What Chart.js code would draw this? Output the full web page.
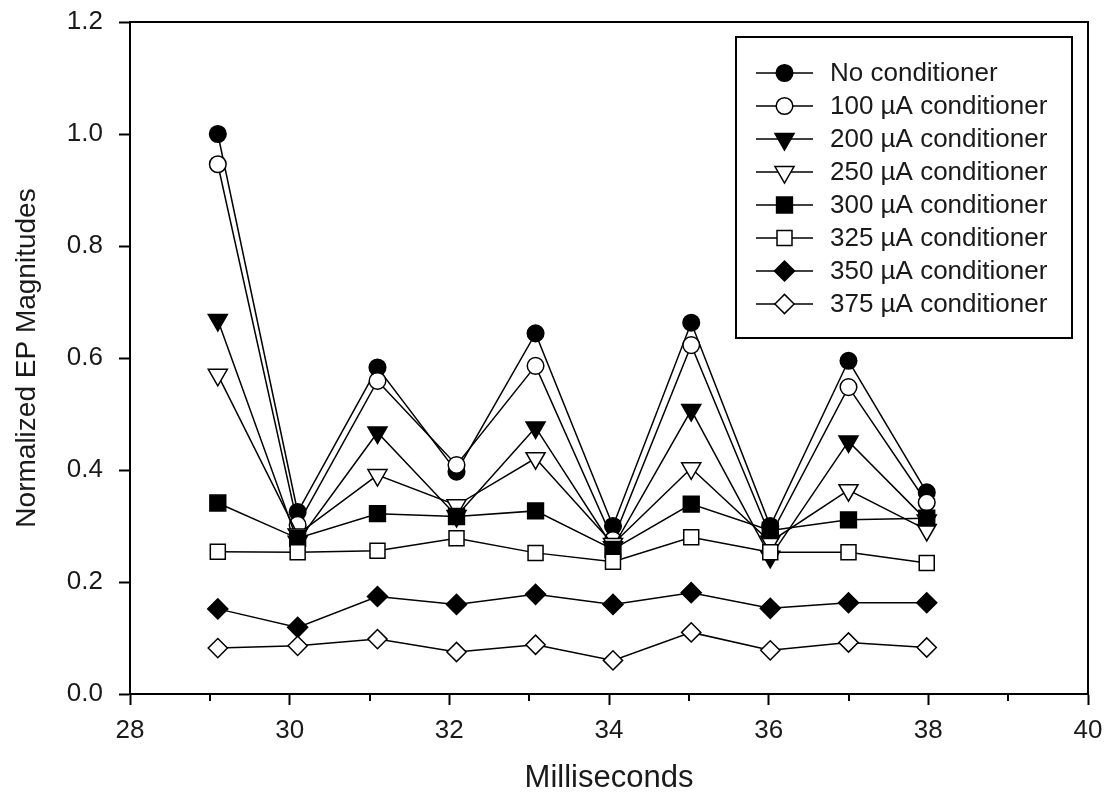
<!DOCTYPE html>
<html>
<head>
<meta charset="utf-8">
<script src="https://cdn.jsdelivr.net/npm/chart.js@4.4.0/dist/chart.umd.min.js"></script>
<style>
html,body{margin:0;padding:0;background:#fff;}
#wrap{width:1106px;height:803px;position:relative;}
</style>
</head>
<body>
<div id="wrap"><canvas id="c" width="1106" height="803"></canvas></div>
<script>
// ---- data ----
const times = [29.1, 30.1, 31.1, 32.09, 33.08, 34.05, 35.03, 36.02, 37.0, 37.98];
const seriesNames = ['No conditioner', '100 µA conditioner', '200 µA conditioner', '250 µA conditioner',
                     '300 µA conditioner', '325 µA conditioner', '350 µA conditioner', '375 µA conditioner'];
const noConditioner = [1.00, 0.325, 0.583, 0.397, 0.644, 0.300, 0.663, 0.300, 0.595, 0.360];
const uA100 = [0.946, 0.302, 0.559, 0.409, 0.586, 0.275, 0.623, 0.282, 0.548, 0.342];
const uA200 = [0.668, 0.272, 0.467, 0.318, 0.476, 0.262, 0.507, 0.245, 0.451, 0.310];
const uA250 = [0.570, 0.285, 0.391, 0.337, 0.421, 0.268, 0.403, 0.272, 0.364, 0.293];
const uA300 = [0.341, 0.278, 0.322, 0.317, 0.327, 0.258, 0.339, 0.292, 0.311, 0.314];
const uA325 = [0.254, 0.253, 0.256, 0.278, 0.252, 0.236, 0.280, 0.253, 0.253, 0.234];
const uA350 = [0.152, 0.119, 0.174, 0.160, 0.178, 0.160, 0.181, 0.153, 0.163, 0.163];
const uA375 = [0.082, 0.086, 0.098, 0.075, 0.088, 0.060, 0.110, 0.078, 0.092, 0.083];
const seriesValues = [noConditioner, uA100, uA200, uA250, uA300, uA325, uA350, uA375];
const xMin = 28, xMax = 40, xMajorStep = 2, xMinorStep = 1;
const yMin = 0, yMax = 1.2, yStep = 0.2;

// ---- styles ----
const markerStyles = [
  {pointStyle: 'circle',   fill: '#000', radius: 8.3, rotation: 0},
  {pointStyle: 'circle',   fill: '#fff', radius: 8.3, rotation: 0},
  {pointStyle: 'triangle', fill: '#000', radius: 11,  rotation: 180},
  {pointStyle: 'triangle', fill: '#fff', radius: 11,  rotation: 180},
  {pointStyle: 'rect',     fill: '#000', radius: 11.2, rotation: 0},
  {pointStyle: 'rect',     fill: '#fff', radius: 10.6, rotation: 0},
  {pointStyle: 'rectRot',  fill: '#000', radius: 10,  rotation: 0},
  {pointStyle: 'rectRot',  fill: '#fff', radius: 9.6, rotation: 0}
];
const FONT = '"Liberation Sans", Arial, sans-serif';
const TEXT = '#1a1a1a';

const datasets = seriesValues.map((vals, i) => ({
  label: seriesNames[i],
  data: vals.map((v, j) => ({x: times[j], y: v})),
  showLine: true,
  borderColor: '#000',
  borderWidth: 1.5,
  pointStyle: markerStyles[i].pointStyle,
  pointRadius: markerStyles[i].radius,
  pointHoverRadius: markerStyles[i].radius,
  pointRotation: markerStyles[i].rotation,
  pointBackgroundColor: markerStyles[i].fill,
  pointBorderColor: '#000',
  pointBorderWidth: 1.5,
  order: seriesValues.length - 1 - i
}));

function drawMarker(ctx, st, x, y) {
  const opts = {pointStyle: st.pointStyle, radius: st.radius, rotation: st.rotation, borderWidth: 1.5};
  ctx.save();
  ctx.fillStyle = st.fill;
  ctx.strokeStyle = '#000';
  ctx.lineWidth = 1.5;
  if (Chart.helpers && Chart.helpers.drawPoint) {
    Chart.helpers.drawPoint(ctx, opts, x, y);
  } else {
    ctx.beginPath(); ctx.arc(x, y, st.radius, 0, Math.PI * 2); ctx.fill(); ctx.stroke();
  }
  ctx.restore();
}

const framePlugin = {
  id: 'frameAndLegend',
  afterDraw(chart) {
    const ctx = chart.ctx;
    const a = chart.chartArea;
    const xs = chart.scales.x;
    ctx.save();
    // frame
    ctx.strokeStyle = '#000';
    ctx.lineWidth = 2;
    ctx.strokeRect(a.left, a.top, a.right - a.left, a.bottom - a.top);
    // minor x ticks
    for (let v = xMin + xMinorStep; v < xMax; v += 2 * xMinorStep) {
      const px = Math.round(xs.getPixelForValue(v));
      ctx.beginPath();
      ctx.moveTo(px, a.bottom);
      ctx.lineTo(px, a.bottom + 7);
      ctx.stroke();
    }
    // legend
    const lg = {left: 736, top: 37, right: 1072, bottom: 338, row0: 73, gap: 33, l0: 756, l1: 813, tx: 830};
    ctx.fillStyle = '#fff';
    ctx.fillRect(lg.left, lg.top, lg.right - lg.left, lg.bottom - lg.top);
    ctx.strokeStyle = '#000';
    ctx.lineWidth = 2;
    ctx.strokeRect(lg.left, lg.top, lg.right - lg.left, lg.bottom - lg.top);
    ctx.font = '26px ' + FONT;
    ctx.textBaseline = 'middle';
    ctx.textAlign = 'left';
    chart.data.datasets.forEach((ds, i) => {
      const y = lg.row0 + i * lg.gap;
      ctx.strokeStyle = '#000';
      ctx.lineWidth = 1.5;
      ctx.beginPath();
      ctx.moveTo(lg.l0, y);
      ctx.lineTo(lg.l1, y);
      ctx.stroke();
      drawMarker(ctx, markerStyles[i], (lg.l0 + lg.l1) / 2, y);
      ctx.fillStyle = TEXT;
      ctx.fillText(ds.label, lg.tx, y + 1);
    });
    ctx.restore();
  }
};

new Chart(document.getElementById('c'), {
  type: 'scatter',
  data: {datasets},
  options: {
    responsive: false,
    animation: false,
    devicePixelRatio: 1,
    layout: {padding: {top: 22, right: 18, left: 0, bottom: 0}},
    plugins: {legend: {display: false}, tooltip: {enabled: false}},
    scales: {
      x: {
        type: 'linear', min: xMin, max: xMax,
        afterFit(s) { s.height = 109; s.paddingLeft = 0; s.paddingRight = 0; },
        ticks: {stepSize: xMajorStep, color: TEXT, padding: 10, font: {family: FONT, size: 26}, maxRotation: 0,
                callback: v => String(v)},
        grid: {display: true, drawOnChartArea: false, drawTicks: true, tickLength: 11, tickColor: '#000', tickWidth: 2},
        border: {display: true, color: '#000', width: 2},
        title: {display: true, text: 'Milliseconds', color: TEXT, font: {family: FONT, size: 31},
                padding: {top: 0, bottom: 6}}
      },
      y: {
        type: 'linear', min: yMin, max: yMax,
        afterFit(s) { s.width = 130; s.paddingTop = 0; s.paddingBottom = 0; },
        ticks: {stepSize: yStep, color: TEXT, padding: 16, font: {family: FONT, size: 26},
                callback: v => Number(v).toFixed(1)},
        grid: {display: true, drawOnChartArea: false, drawTicks: true, tickLength: 11, tickColor: '#000', tickWidth: 2},
        border: {display: true, color: '#000', width: 2},
        title: {display: true, text: 'Normalized EP Magnitudes', color: TEXT, font: {family: FONT, size: 28},
                padding: {top: 10, bottom: 0}}
      }
    }
  },
  plugins: [framePlugin]
});
</script>
</body>
</html>
